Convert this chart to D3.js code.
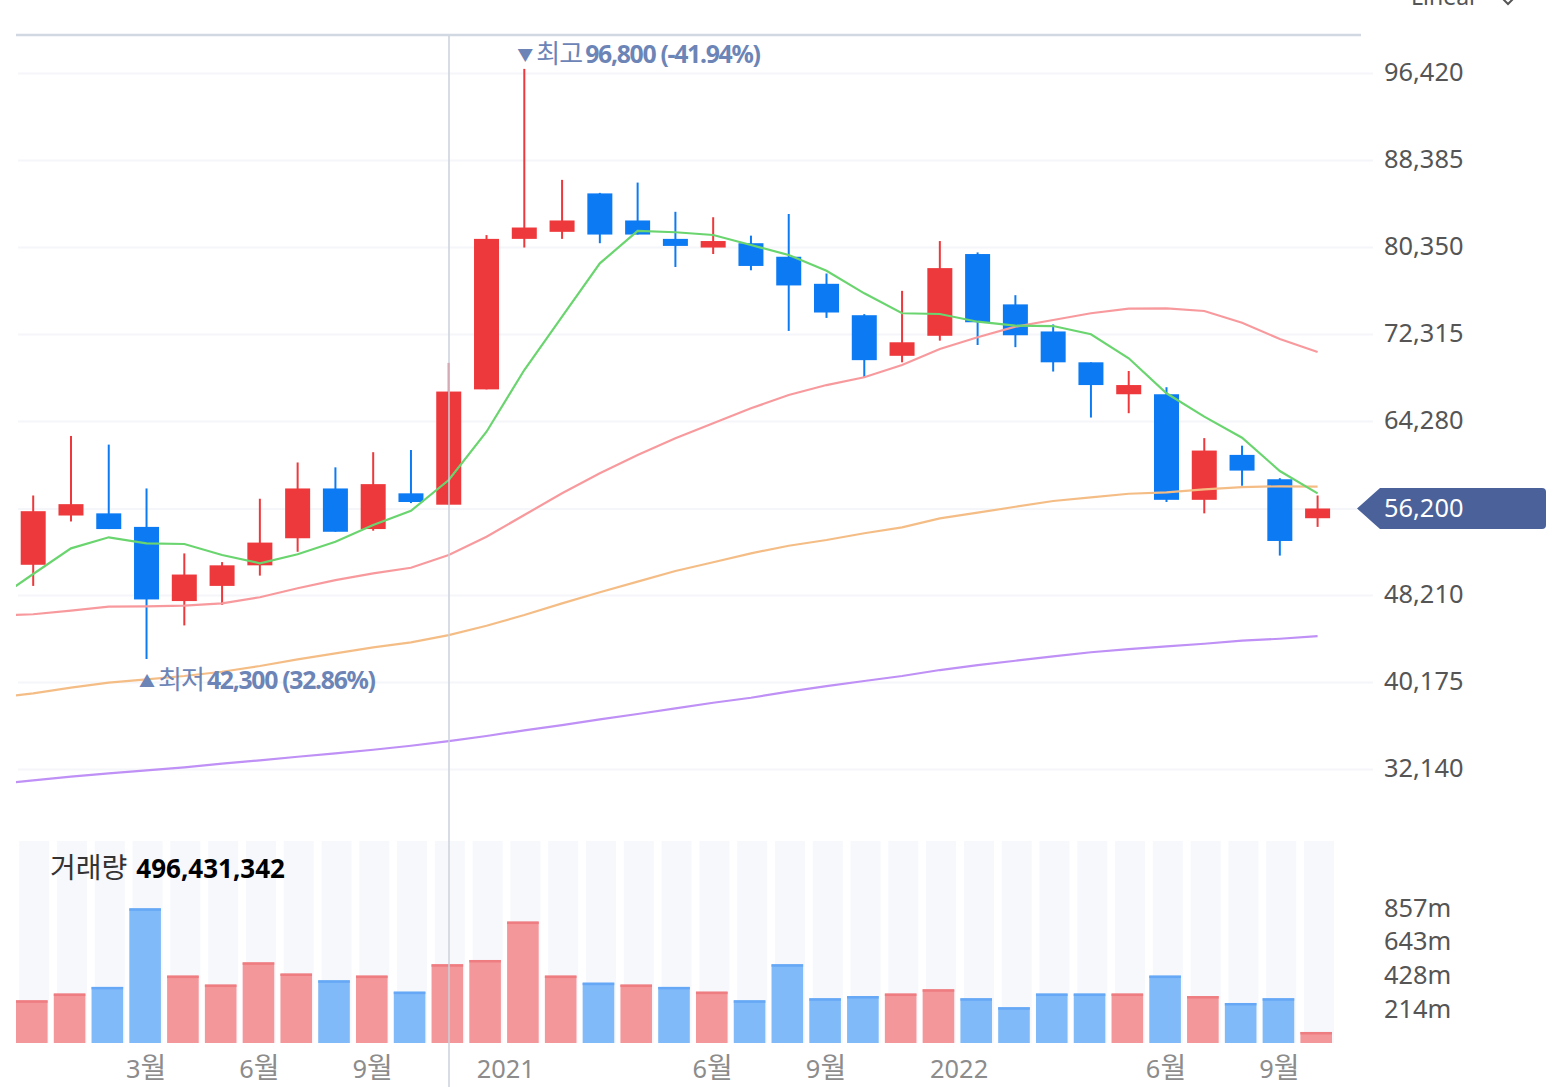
<!DOCTYPE html>
<html lang="ko">
<head>
<meta charset="utf-8">
<title>chart</title>
<script src="https://cdn.jsdelivr.net/npm/d3@7"></script>
<style>
    html, body { margin: 0; padding: 0; background: #fff; overflow: hidden; }
    svg { display: block; }
    text { font-family: "Noto Sans", "Noto Sans CJK KR", sans-serif; }
    .axis path, .axis line { display: none; }
    .grid line { display: block; stroke: #f5f6f9; stroke-width: 2; }
</style>
</head>
<body>
<div id="chart"></div>
<script>
const width = 1567;
const height = 1087;

// monthly candles
const opens = [51000, 55550, 55750, 54500, 47650, 49050, 50950, 53450, 58050, 54300, 57600, 56550, 67200, 81100, 81750, 85300, 82800, 81100, 80300, 80700, 79450, 76950, 74050, 70300, 72150, 79700, 75050, 72550, 69700, 66750, 66750, 57000, 61150, 58900, 55300];
const closes = [55950, 56600, 54300, 47800, 50100, 50950, 53050, 58050, 54050, 58450, 56800, 67000, 81100, 82150, 82800, 81500, 81500, 80450, 80900, 78600, 76800, 74300, 69900, 71550, 78400, 73400, 72200, 69700, 67600, 67600, 57000, 61550, 59700, 53200, 56200];
const highs = [57400, 62900, 62100, 58050, 52050, 51250, 57100, 60450, 60000, 61400, 61600, 69650, 81450, 96800, 86550, 85350, 86300, 83600, 83100, 81400, 83400, 77900, 74150, 76300, 80900, 79850, 75900, 73200, 69700, 68900, 67400, 62700, 62000, 59000, 57400];
const lows = [49050, 55000, 54300, 42300, 45400, 47300, 50000, 52200, 54050, 54150, 56700, 56550, 67200, 80300, 81100, 80700, 81500, 78500, 79700, 78200, 72600, 73800, 68350, 69700, 71700, 71300, 71100, 68850, 64600, 65000, 56800, 55750, 58300, 51850, 54500];

// moving averages, first value is the month before the first candle
const maGreen = [47750, 50150, 52520, 53540, 52980, 52920, 51900, 51140, 51970, 53130, 54670, 55990, 58830, 63290, 68990, 73910, 78840, 81830, 81710, 81460, 80530, 79610, 78160, 76070, 74230, 74160, 73450, 73080, 73050, 72290, 70070, 66840, 64680, 62740, 59660, 57600];
const maPink = [46290, 46430, 46760, 47130, 47160, 47220, 47440, 48000, 48830, 49590, 50210, 50730, 51900, 53590, 55600, 57600, 59450, 61140, 62680, 64070, 65450, 66680, 67600, 68320, 69450, 70930, 72010, 72990, 73610, 74230, 74650, 74690, 74440, 73360, 71850, 70650];
const maOrange = [38710, 39130, 39650, 40110, 40420, 40730, 41120, 41650, 42270, 42820, 43380, 43840, 44510, 45370, 46360, 47440, 48460, 49440, 50430, 51230, 52060, 52760, 53290, 53910, 54460, 55290, 55810, 56360, 56890, 57230, 57560, 57690, 57970, 58180, 58250, 58210];
const maPurple = [30750, 31090, 31430, 31740, 32020, 32290, 32630, 32940, 33270, 33590, 33920, 34290, 34720, 35190, 35710, 36200, 36730, 37220, 37740, 38260, 38720, 39280, 39800, 40270, 40730, 41280, 41740, 42140, 42550, 42920, 43220, 43470, 43710, 43990, 44170, 44420];

// volume in millions, and whether each bar is drawn red or blue
const volumes = [271, 314, 356, 855, 428, 371, 512, 441, 398, 428, 326, 500, 527, 771, 428, 383, 371, 356, 326, 271, 500, 284, 298, 314, 341, 284, 227, 314, 314, 314, 428, 298, 254, 284, 70];
const volumeUp = [1, 1, 0, 0, 1, 1, 1, 1, 0, 1, 0, 1, 1, 1, 1, 0, 1, 0, 1, 0, 0, 0, 0, 1, 1, 0, 0, 0, 0, 1, 0, 1, 0, 0, 1];

const priceTicks = [96420, 88385, 80350, 72315, 64280, 56200, 48210, 40175, 32140];
const volumeTicks = [857, 643, 428, 214];
const monthIndex = [3, 6, 9, 13, 18, 21, 25, 30, 33];
const monthLabels = ["3월", "6월", "9월", "2021", "6월", "9월", "2022", "6월", "9월"];

const lastPrice = 56200;
const highIndex = 13;
const lowIndex = 3;

const RED = "#ee393c";
const BLUE = "#0c7bf3";

const svg = d3.select("#chart")
    .append("svg")
    .attr("width", width)
    .attr("height", height);

const x = d3.scaleLinear().domain([0, 34]).range([33.2, 1317.6]);
const xVolume = d3.scaleLinear().domain([0, 34]).range([31.8, 1316.2]);
const xBack = d3.scaleLinear().domain([0, 34]).range([34.2, 1319]);
const y = d3.scaleLinear().domain([32140, 96420]).range([769, 73]);
const yVolume = d3.scaleLinear().domain([0, 857]).range([1043, 908]);

const closesIdx = d3.range(closes.length);

svg.append("defs").append("clipPath").attr("id", "plot")
    .append("rect")
    .attr("x", 16).attr("y", 36)
    .attr("width", 1345).attr("height", 780);

// price grid and labels
const priceAxis = svg.append("g")
    .attr("class", "axis grid")
    .attr("transform", "translate(1373,0)")
    .call(d3.axisRight(y).tickValues(priceTicks).tickSize(-1355).tickPadding(11).tickFormat(d3.format(",")));
priceAxis.selectAll("text")
    .attr("x", 11)
    .attr("dy", d => d === lastPrice ? "0.32em" : "0.28em")
    .attr("fill", d => d === lastPrice ? "#fff" : "#555")
    .style("font-size", "25.4px");

// current price tag goes under its label
const tagY = y(lastPrice);
priceAxis.insert("path", ".tick")
    .attr("d", `M-16,${tagY} L7,${tagY - 20.5} H169 Q173,${tagY - 20.5} 173,${tagY - 16.5} V${tagY + 16.5} Q173,${tagY + 20.5} 169,${tagY + 20.5} H7 Z`)
    .style("display", "block")
    .attr("fill", "#4a6199")
    .attr("stroke", "none");
priceAxis.selectAll(".tick").raise();
priceAxis.selectAll(".tick line").filter(d => d === lastPrice).attr("x1", -16);

svg.append("line")
    .attr("x1", 16).attr("x2", 1361)
    .attr("y1", 35).attr("y2", 35)
    .attr("stroke", "#d2d8e1")
    .attr("stroke-width", 2.5);

// candles
const candles = svg.append("g");
candles.selectAll("line")
    .data(closesIdx)
    .enter()
    .append("line")
    .attr("x1", i => x(i)).attr("x2", i => x(i))
    .attr("y1", i => y(highs[i])).attr("y2", i => y(lows[i]))
    .attr("stroke", i => closes[i] >= opens[i] ? RED : BLUE)
    .attr("stroke-width", 2);
candles.selectAll("rect")
    .data(closesIdx)
    .enter()
    .append("rect")
    .attr("x", i => x(i) - 12.5)
    .attr("width", 25)
    .attr("y", i => y(Math.max(opens[i], closes[i])))
    .attr("height", i => Math.abs(y(opens[i]) - y(closes[i])))
    .attr("fill", i => closes[i] >= opens[i] ? RED : BLUE);

// moving averages
const maLine = d3.line()
    .x((d, i) => x(i - 1))
    .y(d => y(d));
const maLayer = svg.append("g").attr("clip-path", "url(#plot)");
[[maPurple, "#bf90f5"], [maOrange, "#f5bd86"], [maPink, "#f89a9d"], [maGreen, "#6ad56f"]].forEach(([values, color]) => {
    maLayer.append("path")
        .datum(values)
        .attr("d", maLine)
        .attr("fill", "none")
        .attr("stroke", color)
        .attr("stroke-width", 2.2);
});

// high and low notes
function note(xPos, yPos, mark, word, value) {
    const t = svg.append("text")
        .attr("x", xPos)
        .attr("y", yPos)
        .attr("fill", "#6c84b6")
        .style("font-size", "24.8px");
    t.append("tspan").text(mark).attr("dy", -2).style("font-size", "16px");
    t.append("tspan").text(word).attr("dx", 3).attr("dy", 2).style("font-size", "26px").style("letter-spacing", "-1px");
    t.append("tspan").text(value).attr("dx", 3).attr("font-weight", 700).style("letter-spacing", "-1.3px");
}
note(x(highIndex) - 7, y(highs[highIndex]) - 6, "▼", "최고", "96,800 (-41.94%)");
note(x(lowIndex) - 7.5, y(lows[lowIndex]) + 30, "▲", "최저", "42,300 (32.86%)");

// volume panel
svg.append("g").selectAll("rect")
    .data(closesIdx)
    .enter()
    .append("rect")
    .attr("x", i => xBack(i) - 15)
    .attr("width", 30)
    .attr("y", 841)
    .attr("height", 202)
    .attr("fill", "#f6f8fc");

const bars = svg.append("g");
bars.selectAll("rect.vol")
    .data(volumes)
    .enter()
    .append("rect")
    .attr("class", "vol")
    .attr("x", (d, i) => xVolume(i) - 15.8)
    .attr("width", 31.6)
    .attr("y", d => yVolume(d))
    .attr("height", d => yVolume(0) - yVolume(d))
    .attr("fill", (d, i) => volumeUp[i] ? "#f4979b" : "#81baf8");
bars.selectAll("rect.cap")
    .data(volumes)
    .enter()
    .append("rect")
    .attr("class", "cap")
    .attr("x", (d, i) => xVolume(i) - 15.8)
    .attr("width", 31.6)
    .attr("y", d => yVolume(d))
    .attr("height", 2.5)
    .attr("fill", (d, i) => volumeUp[i] ? "#ee7d82" : "#66a8f5");

svg.append("g")
    .attr("class", "axis")
    .attr("transform", "translate(1373,0)")
    .call(d3.axisRight(yVolume).tickValues(volumeTicks).tickSize(0).tickPadding(11).tickFormat(d => d + "m"))
    .selectAll("text")
    .attr("fill", "#555")
    .style("font-size", "25.4px");

const volumeTitle = svg.append("text")
    .attr("x", 50)
    .attr("y", 878)
    .attr("fill", "#333")
    .style("font-size", "28px");
volumeTitle.append("tspan").text("거래량");
volumeTitle.append("tspan").text("496,431,342").attr("dx", 9).attr("font-weight", 700).attr("fill", "#000").style("font-size", "26px");

// month axis
const monthAxis = svg.append("g")
    .attr("class", "axis")
    .attr("transform", "translate(0,1060)")
    .call(d3.axisBottom(x).tickValues(monthIndex).tickSize(0).tickPadding(0).tickFormat((d, i) => monthLabels[i]));
monthAxis.selectAll("text")
    .attr("dx", (d, i) => monthLabels[i].length > 2 ? -19 : -1)
    .attr("fill", "#8c8c8c")
    .style("font-size", "25.4px")
    .each(function (d, i) {
        // the hangul glyph runs a little larger than the digit next to it
        if (monthLabels[i].length > 2) return;
        const label = d3.select(this).text(monthLabels[i][0]);
        label.append("tspan").text(monthLabels[i][1]).style("font-size", "28px");
    });

// crosshair sits on top of everything
svg.append("line")
    .attr("x1", 449).attr("x2", 449)
    .attr("y1", 36).attr("y2", height)
    .attr("stroke", "#cbd2dc")
    .attr("stroke-width", 1.5);

// scale selector, cut off by the top of the page
svg.append("text")
    .attr("x", 1411)
    .attr("y", 5)
    .attr("fill", "#555")
    .style("font-size", "23px")
    .text("Linear");
svg.append("path")
    .attr("d", "M1502,-2 L1508,4 L1514,-2")
    .attr("fill", "none")
    .attr("stroke", "#555")
    .attr("stroke-width", 2);
</script>
</body>
</html>
